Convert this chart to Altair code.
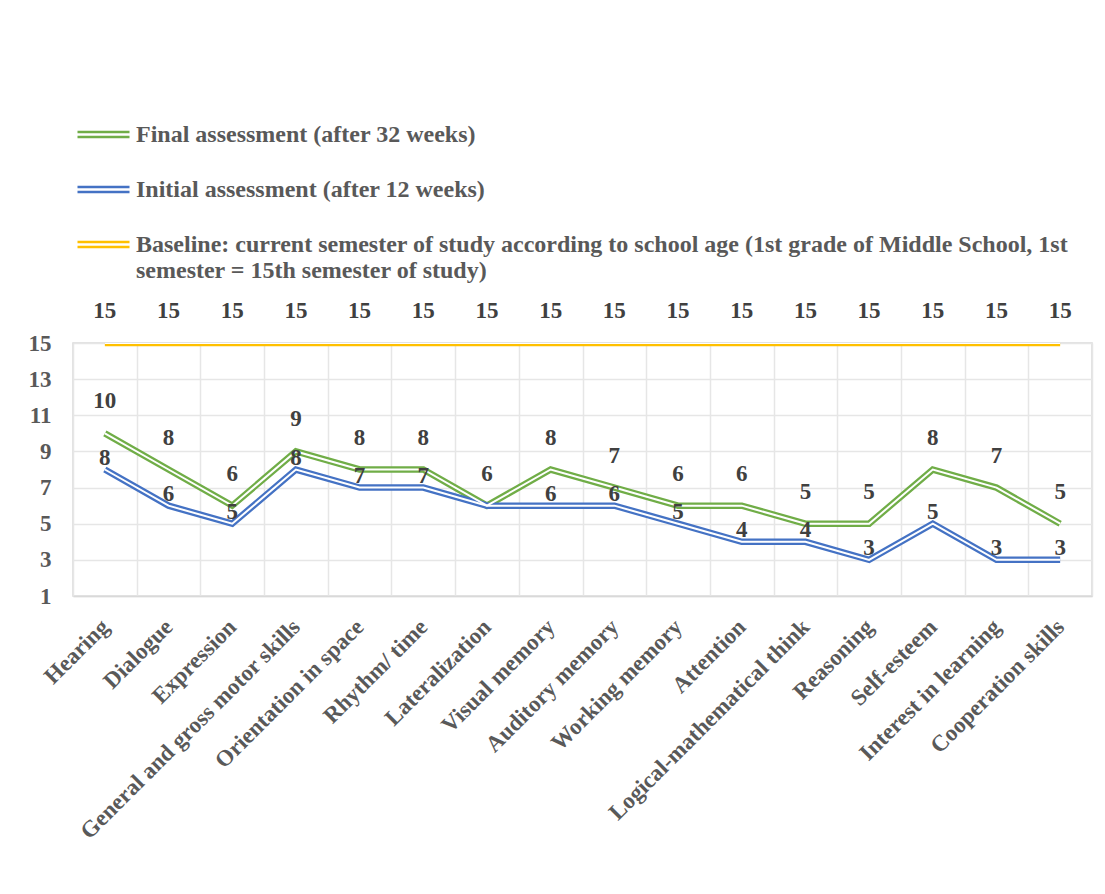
import altair as alt
import pandas as pd

categories = [
    "Hearing", "Dialogue", "Expression", "General and gross motor skills",
    "Orientation in space", "Rhythm/ time", "Lateralization", "Visual memory",
    "Auditory memory", "Working memory", "Attention", "Logical-mathematical think",
    "Reasoning", "Self-esteem", "Interest in learning", "Cooperation skills",
]
final_vals = [10, 8, 6, 9, 8, 8, 6, 8, 7, 6, 6, 5, 5, 8, 7, 5]
initial_vals = [8, 6, 5, 8, 7, 7, 6, 6, 6, 5, 4, 4, 3, 5, 3, 3]
baseline_vals = [15, 15, 15, 15, 15, 15, 15, 15, 15, 15, 15, 15, 15, 15, 15, 15]
y_ticks = [1, 3, 5, 7, 9, 11, 13, 15]

S_FINAL = "Final assessment (after 32 weeks)"
S_INIT = "Initial assessment (after 12 weeks)"
S_BASE = ("Baseline: current semester of study according to school age "
          "(1st grade of Middle School, 1st semester = 15th semester of study)")
series_names = [S_FINAL, S_INIT, S_BASE]
series_colors = ["#70AD47", "#4472C4", "#FFC000"]

rows = []
for name, vals in [(S_FINAL, final_vals), (S_INIT, initial_vals), (S_BASE, baseline_vals)]:
    for i, (c, v) in enumerate(zip(categories, vals)):
        # the initial-assessment label is hidden where it coincides with the final one
        show = not (name == S_INIT and v == final_vals[i])
        rows.append({"category": c, "value": v, "series": name, "show": show})
df = pd.DataFrame(rows)

FONT = "Liberation Serif"
FS = 23

x_enc = alt.X(
    "category:N", sort=categories,
    scale=alt.Scale(paddingInner=0, paddingOuter=0),
    axis=alt.Axis(
        title=None, labelAngle=-45, labelAlign="right", labelBaseline="middle",
        labelFont=FONT, labelFontSize=FS, labelFontWeight="bold", labelColor="#595959",
        ticks=False, domainColor="#D9D9D9", domainWidth=1.5,
        grid=True, gridColor="#E6E6E6", gridWidth=1.5, tickBand="extent",
        labelPadding=27, labelLimit=500, labelOverlap=False,
    ),
)
y_enc = alt.Y(
    "value:Q",
    scale=alt.Scale(domain=[1, 15], nice=False, zero=False),
    axis=alt.Axis(
        title=None, values=y_ticks,
        labelFont=FONT, labelFontSize=FS, labelFontWeight="bold", labelColor="#595959",
        ticks=False, domain=False, grid=True, gridColor="#E6E6E6", gridWidth=1.5,
        labelPadding=22, labelOverlap=False, labelFlush=False, labelBound=False,
    ),
)

label_expr = ("indexof(datum.label, 'Baseline') == 0 ? "
              "['Baseline: current semester of study according to school age (1st grade of Middle School, 1st', "
              "'semester = 15th semester of study)'] : datum.label")

color_enc = alt.Color(
    "series:N",
    scale=alt.Scale(domain=series_names, range=series_colors),
    legend=alt.Legend(
        title=None, orient="none", legendX=3, legendY=-236, direction="vertical",
        symbolType="M-1,-0.096L1,-0.096M-1,0.096L1,0.096",
        symbolSize=2704, symbolStrokeWidth=2.3,
        labelFont=FONT, labelFontSize=24, labelFontWeight="bold", labelColor="#595959",
        labelLimit=1100, labelOffset=5, rowPadding=15, labelExpr=label_expr,
    ),
)

base = alt.Chart(df)

colored = base.mark_line(strokeWidth=6.5, clip=True).encode(
    x=x_enc, y=y_enc, color=color_enc, detail="series:N",
)
white = base.mark_line(strokeWidth=2, color="white", clip=True).encode(
    x=x_enc, y=y_enc, detail="series:N",
)

lbl_style = dict(font=FONT, fontSize=FS, fontWeight="bold", color="#404040")
labels_hi = base.transform_filter(
    alt.FieldOneOfPredicate(field="series", oneOf=[S_FINAL, S_BASE])
).mark_text(dy=-32, **lbl_style).encode(
    x=x_enc, y=y_enc, text="value:Q",
)
labels_lo = base.transform_filter(
    alt.FieldEqualPredicate(field="series", equal=S_INIT)
).transform_filter("datum.show").mark_text(dy=-12, **lbl_style).encode(
    x=x_enc, y=y_enc, text="value:Q",
)

chart = alt.layer(colored, white, labels_hi, labels_lo).properties(
    width=1019, height=253,
    padding={"left": 65, "top": 335, "right": 5, "bottom": 290},
    autosize=alt.AutoSizeParams(type="none"),
    background="white",
).configure_view(
    stroke="#D9D9D9", strokeWidth=1.5
).configure_axis(labelOverlap=False)

chart.save("out.html", embed_options={"renderer": "svg", "actions": False})
